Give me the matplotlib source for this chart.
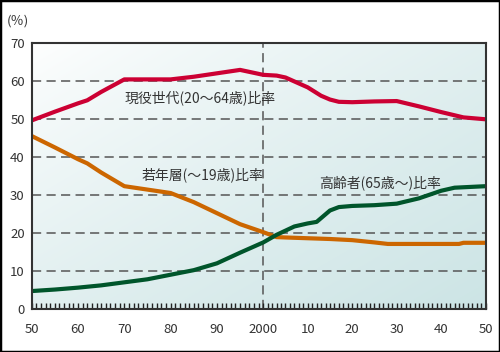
import matplotlib
matplotlib.use("Agg")
import matplotlib.pyplot as plt
import numpy as np
from matplotlib.ticker import MultipleLocator, FixedLocator
from matplotlib.patches import Rectangle

plt.rcParams['font.family'] = ['Noto Sans CJK JP', 'DejaVu Sans']

# working-age (20-64) share
work_years = [1950, 1955, 1960, 1962, 1965, 1970, 1975, 1980, 1985, 1990, 1995,
              2000, 2003, 2005, 2010, 2013, 2015, 2017, 2020, 2025, 2030, 2035,
              2040, 2045, 2050]
work_vals = [49.7, 52.0, 54.2, 55.0, 57.2, 60.5, 60.5, 60.5, 61.2, 62.1, 63.0,
             61.7, 61.5, 61.0, 58.4, 56.2, 55.2, 54.6, 54.5, 54.7, 54.8, 53.4,
             51.9, 50.5, 50.0]

# young (-19) share
young_years = [1950, 1955, 1960, 1962, 1965, 1970, 1975, 1980, 1985, 1990, 1995,
               2000, 2003, 2005, 2010, 2015, 2020, 2025, 2028, 2035, 2044, 2045, 2050]
young_vals = [45.6, 42.6, 39.5, 38.4, 36.0, 32.4, 31.5, 30.6, 28.2, 25.3, 22.4,
              20.3, 19.0, 18.9, 18.7, 18.5, 18.2, 17.6, 17.2, 17.2, 17.2, 17.5, 17.5]

# elderly (65-) share
old_years = [1950, 1955, 1960, 1965, 1970, 1975, 1980, 1985, 1990, 1995, 2000,
             2003, 2007, 2010, 2012, 2015, 2017, 2020, 2025, 2030, 2035, 2040,
             2043, 2050]
old_vals = [4.8, 5.2, 5.7, 6.3, 7.1, 7.9, 9.1, 10.3, 12.1, 14.9, 17.6,
            19.6, 21.8, 22.6, 23.0, 26.0, 26.9, 27.2, 27.4, 27.8, 29.2, 31.2,
            32.0, 32.4]

xtick_pos = [1950, 1960, 1970, 1980, 1990, 2000, 2010, 2020, 2030, 2040, 2050]
xtick_lab = ["50", "60", "70", "80", "90", "2000", "10", "20", "30", "40", "50"]


def fwd(x):
    return np.interp(x, [1950, 2000, 2050], [0, 51, 100])


def inv(y):
    return np.interp(y, [0, 51, 100], [1950, 2000, 2050])


fig = plt.figure(figsize=(5.0, 3.52), dpi=100)
ax = fig.add_axes([0.0634, 0.1213, 0.908, 0.7557])
ax.set_xscale('function', functions=(fwd, inv))

# diagonal gradient background
gx, gy = np.meshgrid(np.linspace(0, 1, 200), np.linspace(1, 0, 200))
t = np.clip((gx + (1 - gy)) / 2, 0, 1) ** 0.8
c0 = np.array([1.0, 1.0, 1.0])
c1 = np.array([0.80, 0.895, 0.898])
img = c0[None, None, :] * (1 - t[..., None]) + c1[None, None, :] * t[..., None]
ax.imshow(img, extent=[0, 1, 0, 1], transform=ax.transAxes, aspect='auto', zorder=0)

for yv in range(10, 70, 10):
    ax.axhline(yv, color='#555555', lw=1.1, ls=(0, (6, 3.5)), zorder=1)
ax.axvline(2000, color='#555555', lw=1.1, ls=(0, (6, 3.5)), zorder=1)

ax.plot(young_years, young_vals, color='#cc6600', lw=3, solid_capstyle='butt', zorder=3)
ax.plot(old_years, old_vals, color='#00552b', lw=3, solid_capstyle='butt', zorder=3)
ax.plot(work_years, work_vals, color='#cc0033', lw=3, solid_capstyle='butt', zorder=3)

ax.set_xlim(1950, 2050)
ax.set_ylim(0, 70)
ax.xaxis.set_major_locator(FixedLocator(xtick_pos))
ax.set_xticklabels(xtick_lab)
ax.xaxis.set_minor_locator(MultipleLocator(1))
ax.set_yticks(range(0, 71, 10))
ax.tick_params(axis='x', which='both', direction='in', length=4, width=1,
               color='#222222', pad=10, labelsize=9.5, labelcolor='#333333')
ax.tick_params(axis='y', length=0, pad=5, labelsize=9.5, labelcolor='#333333')
for s in ax.spines.values():
    s.set_color('#333333')
    s.set_linewidth(1.5)
    s.set_zorder(4)

ax.text(1970.1, 55.6, "現役世代(20～64歳)比率", fontsize=10, color='#333333',
        va='center', zorder=5)
ax.text(1973.8, 35.3, "若年層(～19歳)比率", fontsize=10, color='#333333',
        va='center', zorder=5)
ax.text(2012.6, 33.2, "高齢者(65歳～)比率", fontsize=10, color='#333333',
        va='center', zorder=5)
fig.text(0.014, 0.94, "(％)", fontsize=9.5, color='#333333', va='center')

fig.add_artist(Rectangle((0, 0), 1, 1, transform=fig.transFigure, fill=False,
                         edgecolor='black', lw=2.5))

fig.savefig("out.png", dpi=100)
